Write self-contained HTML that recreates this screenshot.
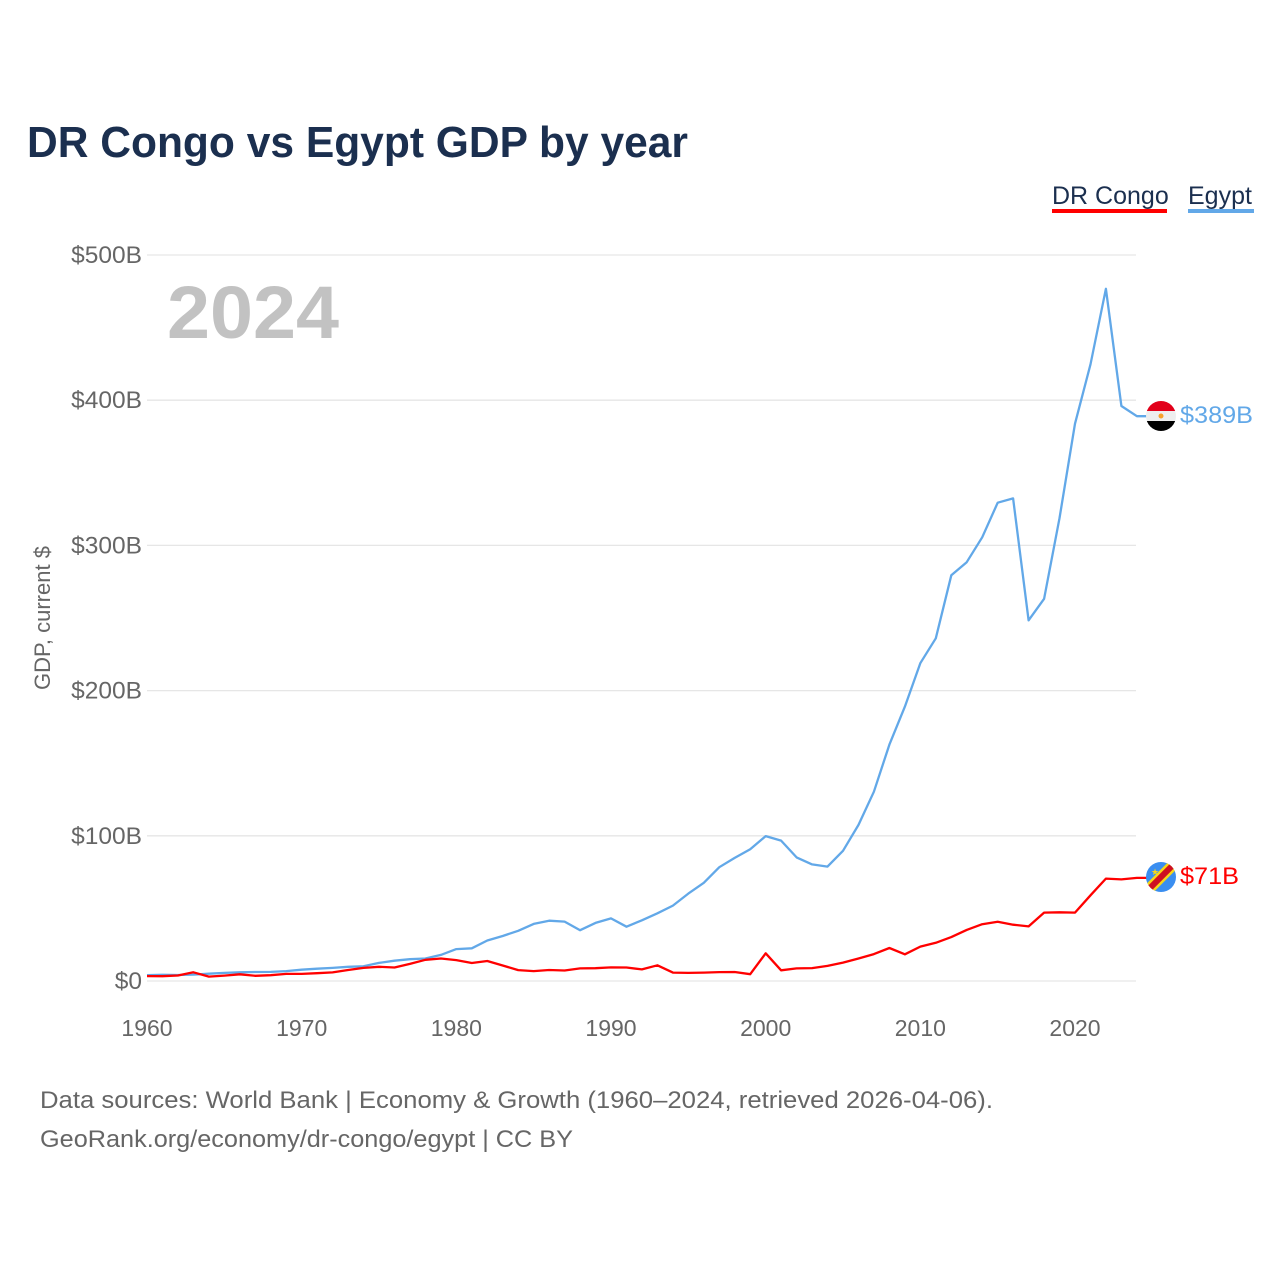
<!DOCTYPE html>
<html><head><meta charset="utf-8">
<style>
html,body{margin:0;padding:0;background:#fff;}
body{width:1280px;height:1280px;overflow:hidden;font-family:"Liberation Sans",sans-serif;}
</style></head>
<body>
<svg width="1280" height="1280" xmlns="http://www.w3.org/2000/svg" font-family="Liberation Sans, sans-serif">
<text x="27" y="157" font-size="44" font-weight="bold" fill="#1b2f4f" textLength="661" lengthAdjust="spacingAndGlyphs">DR Congo vs Egypt GDP by year</text>
<g>
<text x="1052" y="204" font-size="25" fill="#1b2f4f">DR Congo</text>
<rect x="1052" y="209" width="115" height="4" fill="#ff0000"></rect>
<text x="1188" y="204" font-size="25" fill="#1b2f4f">Egypt</text>
<rect x="1188" y="209" width="66" height="4" fill="#62a8e8"></rect>
</g>
<g id="grid"></g>
<text x="167" y="338" font-size="74" font-weight="bold" fill="#c2c2c2" textLength="172" lengthAdjust="spacingAndGlyphs">2024</text>
<text transform="translate(50,618) rotate(-90)" text-anchor="middle" font-size="22" fill="#666">GDP, current $</text>
<g id="xt"></g>
<g id="lines"></g>
<g>
<clipPath id="ce"><circle cx="1161" cy="416" r="15"></circle></clipPath>
<g clip-path="url(#ce)"><rect x="1146" y="401" width="30" height="10" fill="#e2001a"></rect><rect x="1146" y="411" width="30" height="10" fill="#eee"></rect><rect x="1146" y="421" width="30" height="10" fill="#000"></rect><circle cx="1161" cy="416" r="2.5" fill="#f7a12b"></circle></g>
</g>
<text x="1180" y="423" font-size="24" fill="#62a8e8" textLength="73" lengthAdjust="spacingAndGlyphs">$389B</text>
<g>
<clipPath id="cc"><circle cx="1161" cy="877" r="15"></circle></clipPath>
<g clip-path="url(#cc)"><rect x="1146" y="862" width="30" height="30" fill="#3a8ef0"></rect><line x1="1144" y1="894" x2="1178" y2="860" stroke="#f7d618" stroke-width="11"></line><line x1="1144" y1="894" x2="1178" y2="860" stroke="#ce1021" stroke-width="6"></line><text x="1151" y="875" font-size="9" fill="#f7d618">★</text></g>
</g>
<text x="1180" y="884" font-size="24" fill="#ff0000" textLength="59" lengthAdjust="spacingAndGlyphs">$71B</text>
<text x="40" y="1108" font-size="24" fill="#666" textLength="953" lengthAdjust="spacingAndGlyphs">Data sources: World Bank | Economy &amp; Growth (1960–2024, retrieved 2026-04-06).</text>
<text x="40" y="1147" font-size="24" fill="#666" textLength="533" lengthAdjust="spacingAndGlyphs">GeoRank.org/economy/dr-congo/egypt | CC BY</text>
</svg>
<script>
const years=[];for(let y=1960;y<=2024;y++)years.push(y);
const egypt=[4.0,4.3,4.1,4.4,5.0,5.6,6.0,6.2,6.3,6.8,7.8,8.5,9.0,9.8,10.1,12.5,14.0,15.0,15.5,18.0,22.0,22.5,27.9,31.0,34.6,39.3,41.5,40.9,35.0,40.0,43.1,37.4,41.8,46.6,51.9,60.2,67.6,78.4,84.8,90.7,99.8,96.7,85.1,80.3,78.8,89.7,107.5,130.4,162.8,189.0,218.9,236.0,279.4,288.4,305.6,329.4,332.4,248.4,263.2,318.7,383.8,424.7,476.7,396.0,389.0];
const congo=[3.4,3.3,3.8,6.0,3.0,3.7,4.6,3.6,4.0,4.9,4.9,5.4,5.9,7.6,9.0,9.8,9.3,11.8,14.6,15.5,14.4,12.4,13.8,10.7,7.5,6.8,7.6,7.2,8.7,8.8,9.4,9.3,8.0,10.8,5.8,5.6,5.8,6.1,6.2,4.7,19.1,7.4,8.7,8.9,10.4,12.7,15.5,18.5,22.7,18.4,23.7,26.3,30.2,35.2,39.1,40.8,38.8,37.6,47.1,47.3,47.1,59.0,70.5,70.0,71.0];
const yTicks=[0,100,200,300,400,500];
const yTickLabels=["$0","$100B","$200B","$300B","$400B","$500B"];
const xTicks=[1960,1970,1980,1990,2000,2010,2020];
const NS="http://www.w3.org/2000/svg";
const xs=y=>147+(y-1960)*(1075-147)/60;
const ys=v=>981-v*(981-255)/500;
function mk(tag,attrs,parent){const e=document.createElementNS(NS,tag);for(const k in attrs)e.setAttribute(k,attrs[k]);parent.appendChild(e);return e;}
const grid=document.getElementById('grid');
yTicks.forEach((t,i)=>{
 const l=mk('line',{x1:147,x2:1136,y1:ys(t),y2:ys(t),stroke:'#e6e6e6','stroke-width':1.3},grid);
 
 
 const tx=mk('text',{x:142,y:ys(t)+8,'text-anchor':'end','font-size':24.5,fill:'#666'},grid);
 tx.textContent=yTickLabels[i];
 
 
});
const xt=document.getElementById('xt');
xTicks.forEach(t=>{
 const tx=mk('text',{x:xs(t),y:1036,'text-anchor':'middle','font-size':23,fill:'#666'},xt);
 tx.textContent=String(t);
 
 
});
const lines=document.getElementById('lines');
function draw(arr,color,name){
 let d=arr.map((v,i)=>(i?'L':'M')+xs(years[i]).toFixed(1)+','+ys(v).toFixed(1)).join(' ');
 d+=' L1147,'+ys(arr[arr.length-1]).toFixed(1);
 const p=mk('path',{d:d,fill:'none',stroke:color,'stroke-width':2.3,'stroke-linejoin':'round'},lines);
 
 
}
draw(egypt,'#62a8e8','egypt-line');
draw(congo,'#ff0000','dr-congo-line');
</script>
</body></html>
